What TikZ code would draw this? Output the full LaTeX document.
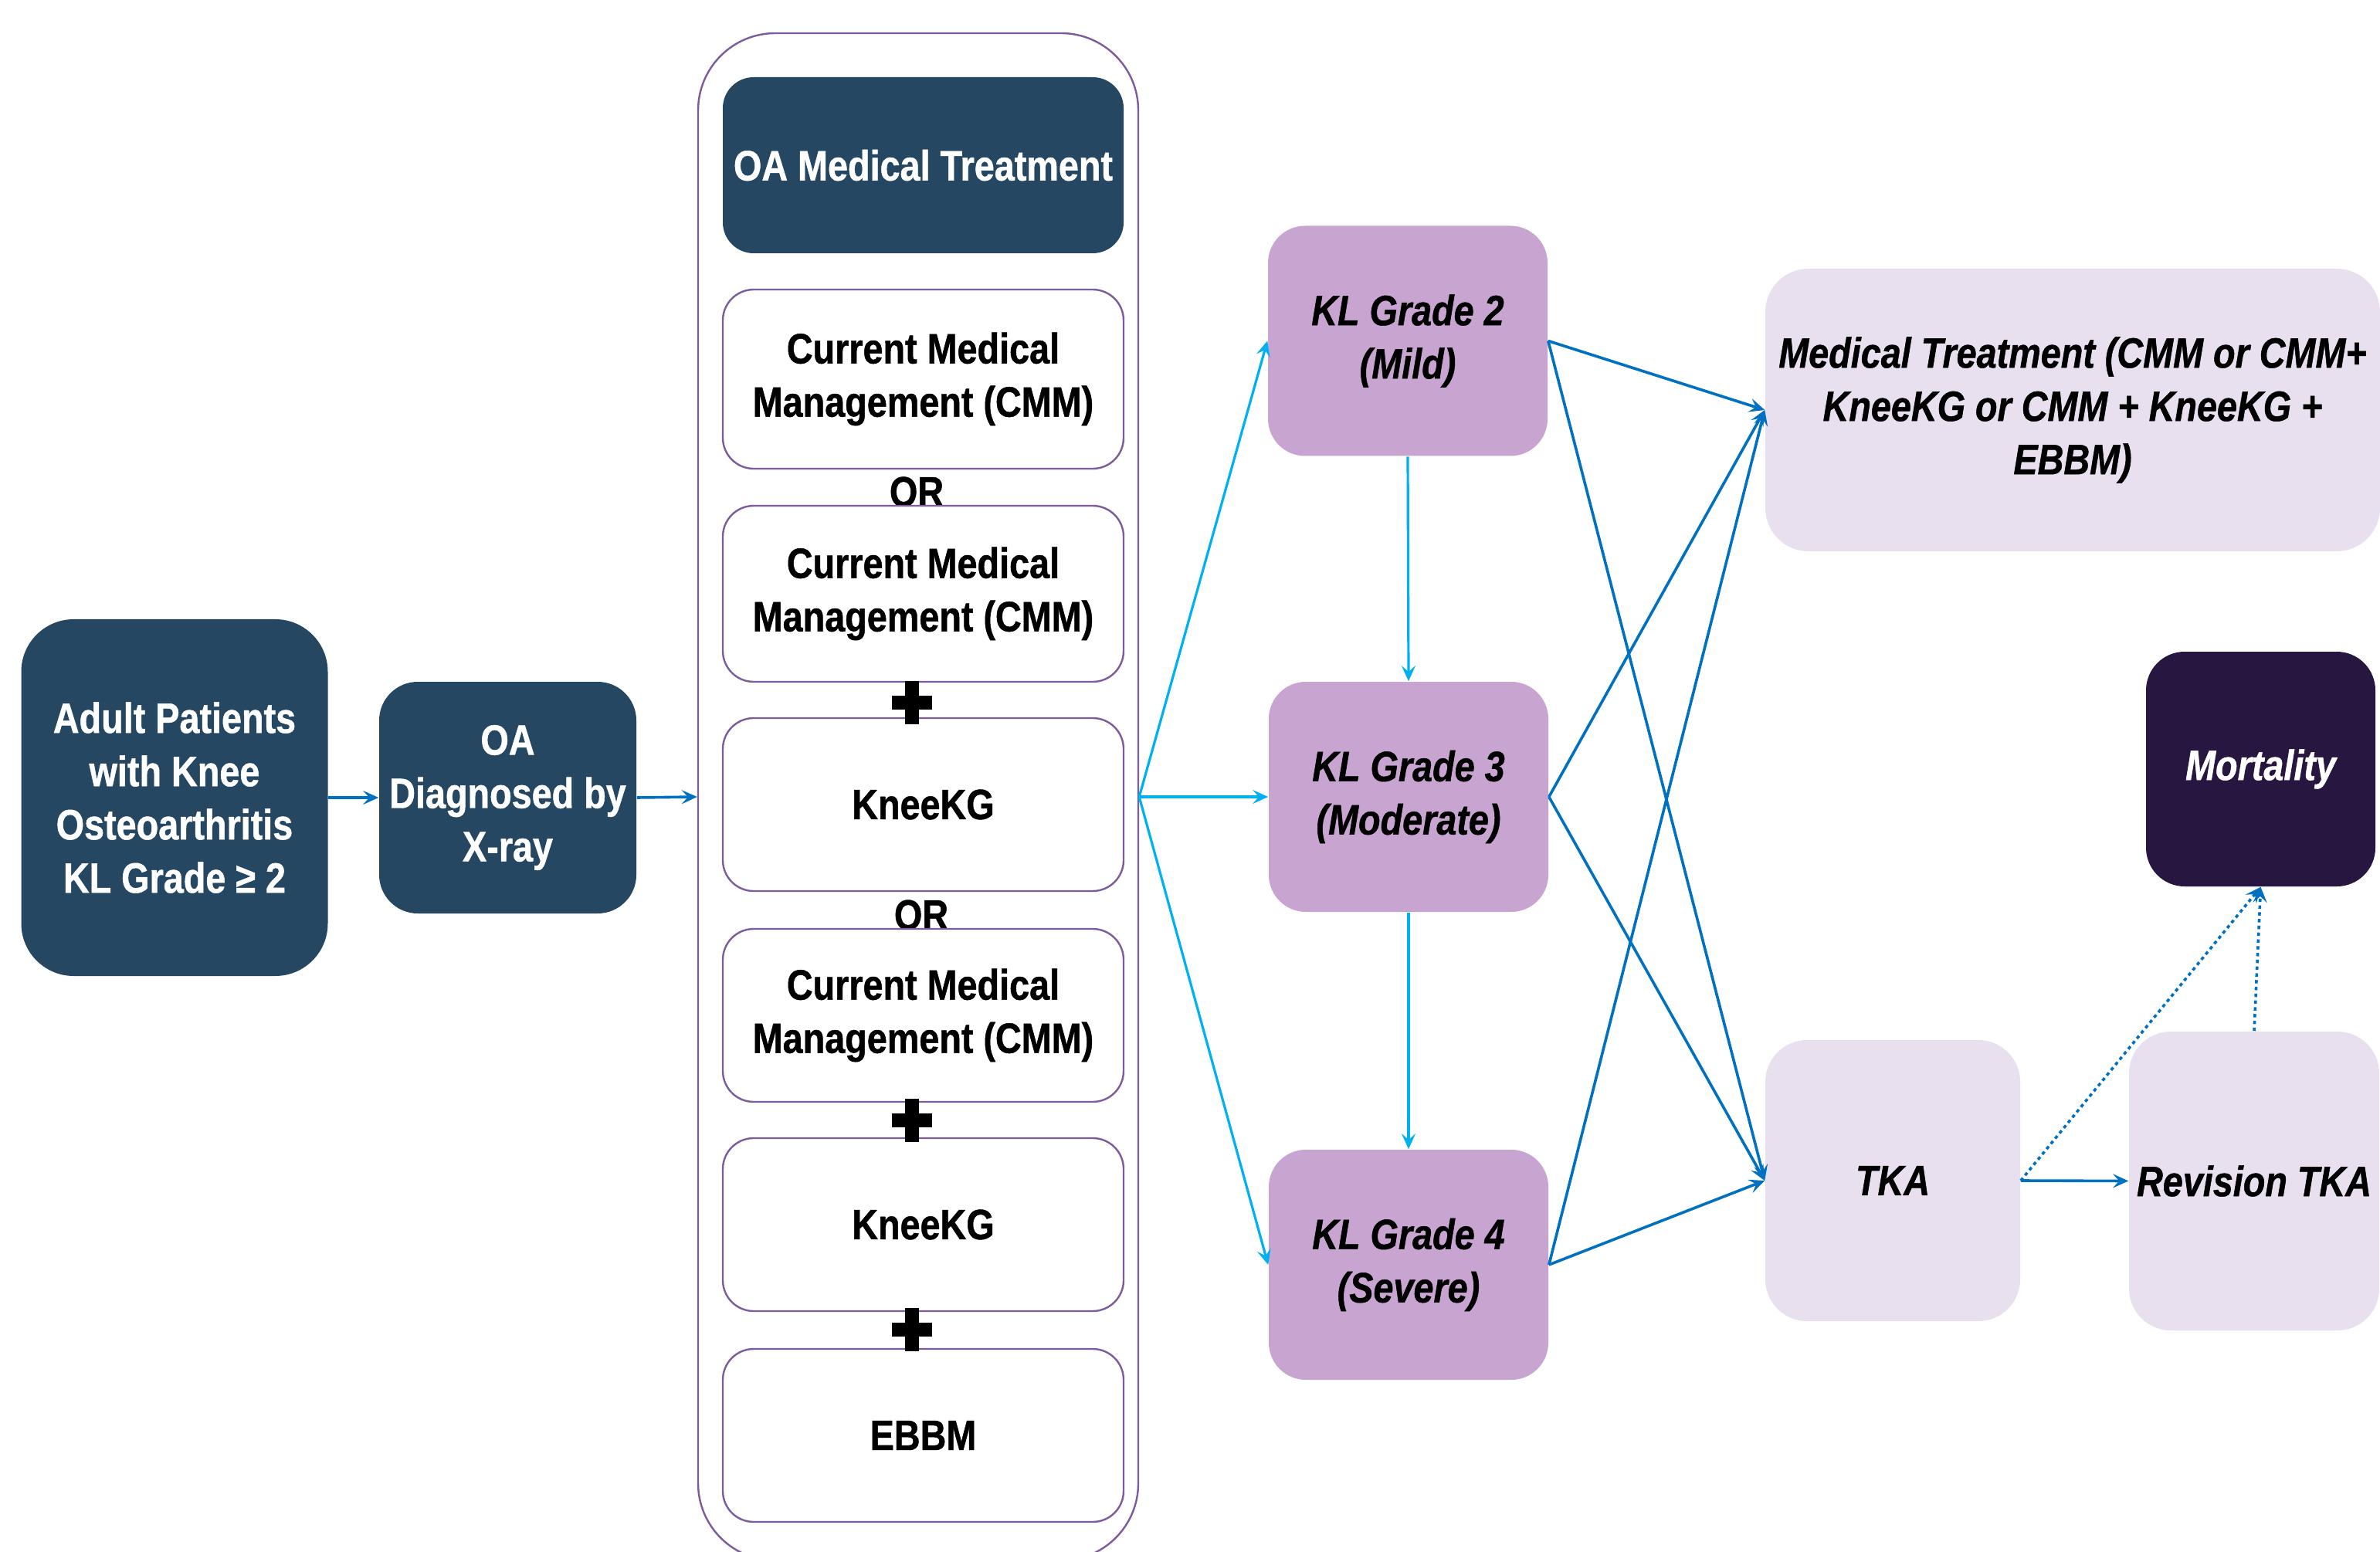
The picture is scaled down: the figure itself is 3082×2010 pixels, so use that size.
\documentclass[tikz,border=0pt]{standalone}
\usepackage{fontspec}
\setmainfont{Liberation Sans}[FakeStretch=0.85,
  BoldFeatures={FakeBold=0.9}, BoldItalicFeatures={FakeBold=0.9}]
\usetikzlibrary{arrows.meta}
\definecolor{navy}{HTML}{254761}
\definecolor{purp}{HTML}{7D5C9E}
\definecolor{lav}{HTML}{C8A5D0}
\definecolor{palelav}{HTML}{E8E0EE}
\definecolor{darkpurp}{HTML}{27163F}
\definecolor{cyanarr}{HTML}{00B0F0}
\definecolor{bluearr}{HTML}{0070C0}
\begin{document}
\begin{tikzpicture}[x=0.25pt,y=-0.25pt,
  txt/.style={font=\fontsize{13.75pt}{17.25pt}\selectfont\bfseries, align=center, inner sep=0pt},
  itxt/.style={font=\fontsize{13.75pt}{17.25pt}\selectfont\bfseries\itshape, align=center, inner sep=0pt},
  navybox/.style={txt, fill=navy, text=white},
  whitebox/.style={txt, draw=purp, line width=0.6pt, fill=white, rounded corners=10pt,
    minimum width=129.75pt, minimum height=56pt},
  klbox/.style={itxt, fill=lav, rounded corners=12pt, minimum width=90.5pt, minimum height=74.5pt},
  palebox/.style={itxt, fill=palelav},
  carrow/.style={draw=cyanarr, line width=0.8pt, -{Stealth[length=5pt,width=4.5pt,inset=2pt]}},
  barrow/.style={draw=bluearr, line width=0.9pt, -{Stealth[length=5pt,width=4.5pt,inset=2pt]}},
  darrow/.style={draw=bluearr, line width=0.9pt, dash pattern=on 1.1pt off 1.1pt, -{Stealth[length=5pt,width=4.5pt,inset=2pt]}}
]
\useasboundingbox (0,0) rectangle (3082,2010);

% left column
\node[navybox, rounded corners=17pt, minimum width=99.25pt, minimum height=115.5pt] (adult) at (226,1033)
  {Adult Patients\\with Knee\\Osteoarthritis\\KL Grade ≥ 2};
\node[navybox, rounded corners=12.5pt, minimum width=83.25pt, minimum height=75pt] (oa) at (657.5,1033)
  {OA\\Diagnosed by\\X-ray};

% container
\node[draw=purp, line width=0.6pt, fill=white, rounded corners=25pt,
  minimum width=142.5pt, minimum height=494.5pt] (cont) at (1189,1032) {};

\node[navybox, rounded corners=10pt, minimum width=129.75pt, minimum height=57pt] (omt) at (1195.5,214)
  {OA Medical Treatment};
\node[whitebox, minimum height=58pt] (cmm1) at (1195.5,491) {Current Medical\\Management (CMM)};
\node[txt] (or1) at (1187,637) {OR};
\node[whitebox, minimum height=57pt] (cmm2) at (1195.5,769) {Current Medical\\Management (CMM)};
\node[whitebox] (knee1) at (1195.5,1042) {KneeKG};
\node[txt] (or2) at (1193,1185) {OR};
\node[whitebox] (cmm3) at (1195.5,1315) {Current Medical\\Management (CMM)};
\node[whitebox] (knee2) at (1195.5,1586) {KneeKG};
\node[whitebox] (ebbm) at (1195.5,1859) {EBBM};

% plus signs
\foreach \py in {910,1451,1722}{
  \fill (1172,{\py-28}) rectangle (1190,{\py+28});
  \fill (1155,{\py-9}) rectangle (1207,{\py+9});
}

% KL grades
\node[klbox] (kl2) at (1823,441.5) {KL Grade 2\\(Mild)};
\node[klbox] (kl3) at (1824,1032) {KL Grade 3\\(Moderate)};
\node[klbox] (kl4) at (1824,1638) {KL Grade 4\\(Severe)};

% outcomes
\node[palebox, rounded corners=14pt, minimum width=199pt, minimum height=91.5pt] (med) at (2684,531)
  {Medical Treatment (CMM or CMM+\\KneeKG or CMM + KneeKG +\\EBBM)};
\node[itxt, fill=darkpurp, text=white, rounded corners=12.5pt, minimum width=74.25pt, minimum height=76pt] (mort) at (2927.5,996)
  {Mortality};
\node[palebox, rounded corners=13.5pt, minimum width=82.5pt, minimum height=91pt] (tka) at (2451,1529) {TKA};
\node[palebox, rounded corners=13.5pt, minimum width=81pt, minimum height=96.75pt] (rev) at (2919,1529.5) {Revision TKA};

% connectors
\draw[barrow] (adult.east) -- (oa.west);
\draw[barrow] (oa.east) -- (cont.west);
\draw[carrow] (cont.east) -- (kl2.west);
\draw[carrow] (cont.east) -- (kl3.west);
\draw[carrow] (cont.east) -- (kl4.west);
\draw[carrow] (kl2.south) -- (kl3.north);
\draw[carrow] (kl3.south) -- (kl4.north);
\draw[barrow] (kl2.east) -- (med.west);
\draw[barrow] (kl3.east) -- (med.west);
\draw[barrow] (kl4.east) -- (med.west);
\draw[barrow] (kl2.east) -- (tka.west);
\draw[barrow] (kl3.east) -- (tka.west);
\draw[barrow] (kl4.east) -- (tka.west);
\draw[barrow] (tka.east) -- (rev.west);
\draw[darrow] (tka.east) -- (mort.south);
\draw[darrow] (rev.north) -- (mort.south);
\end{tikzpicture}
\end{document}
